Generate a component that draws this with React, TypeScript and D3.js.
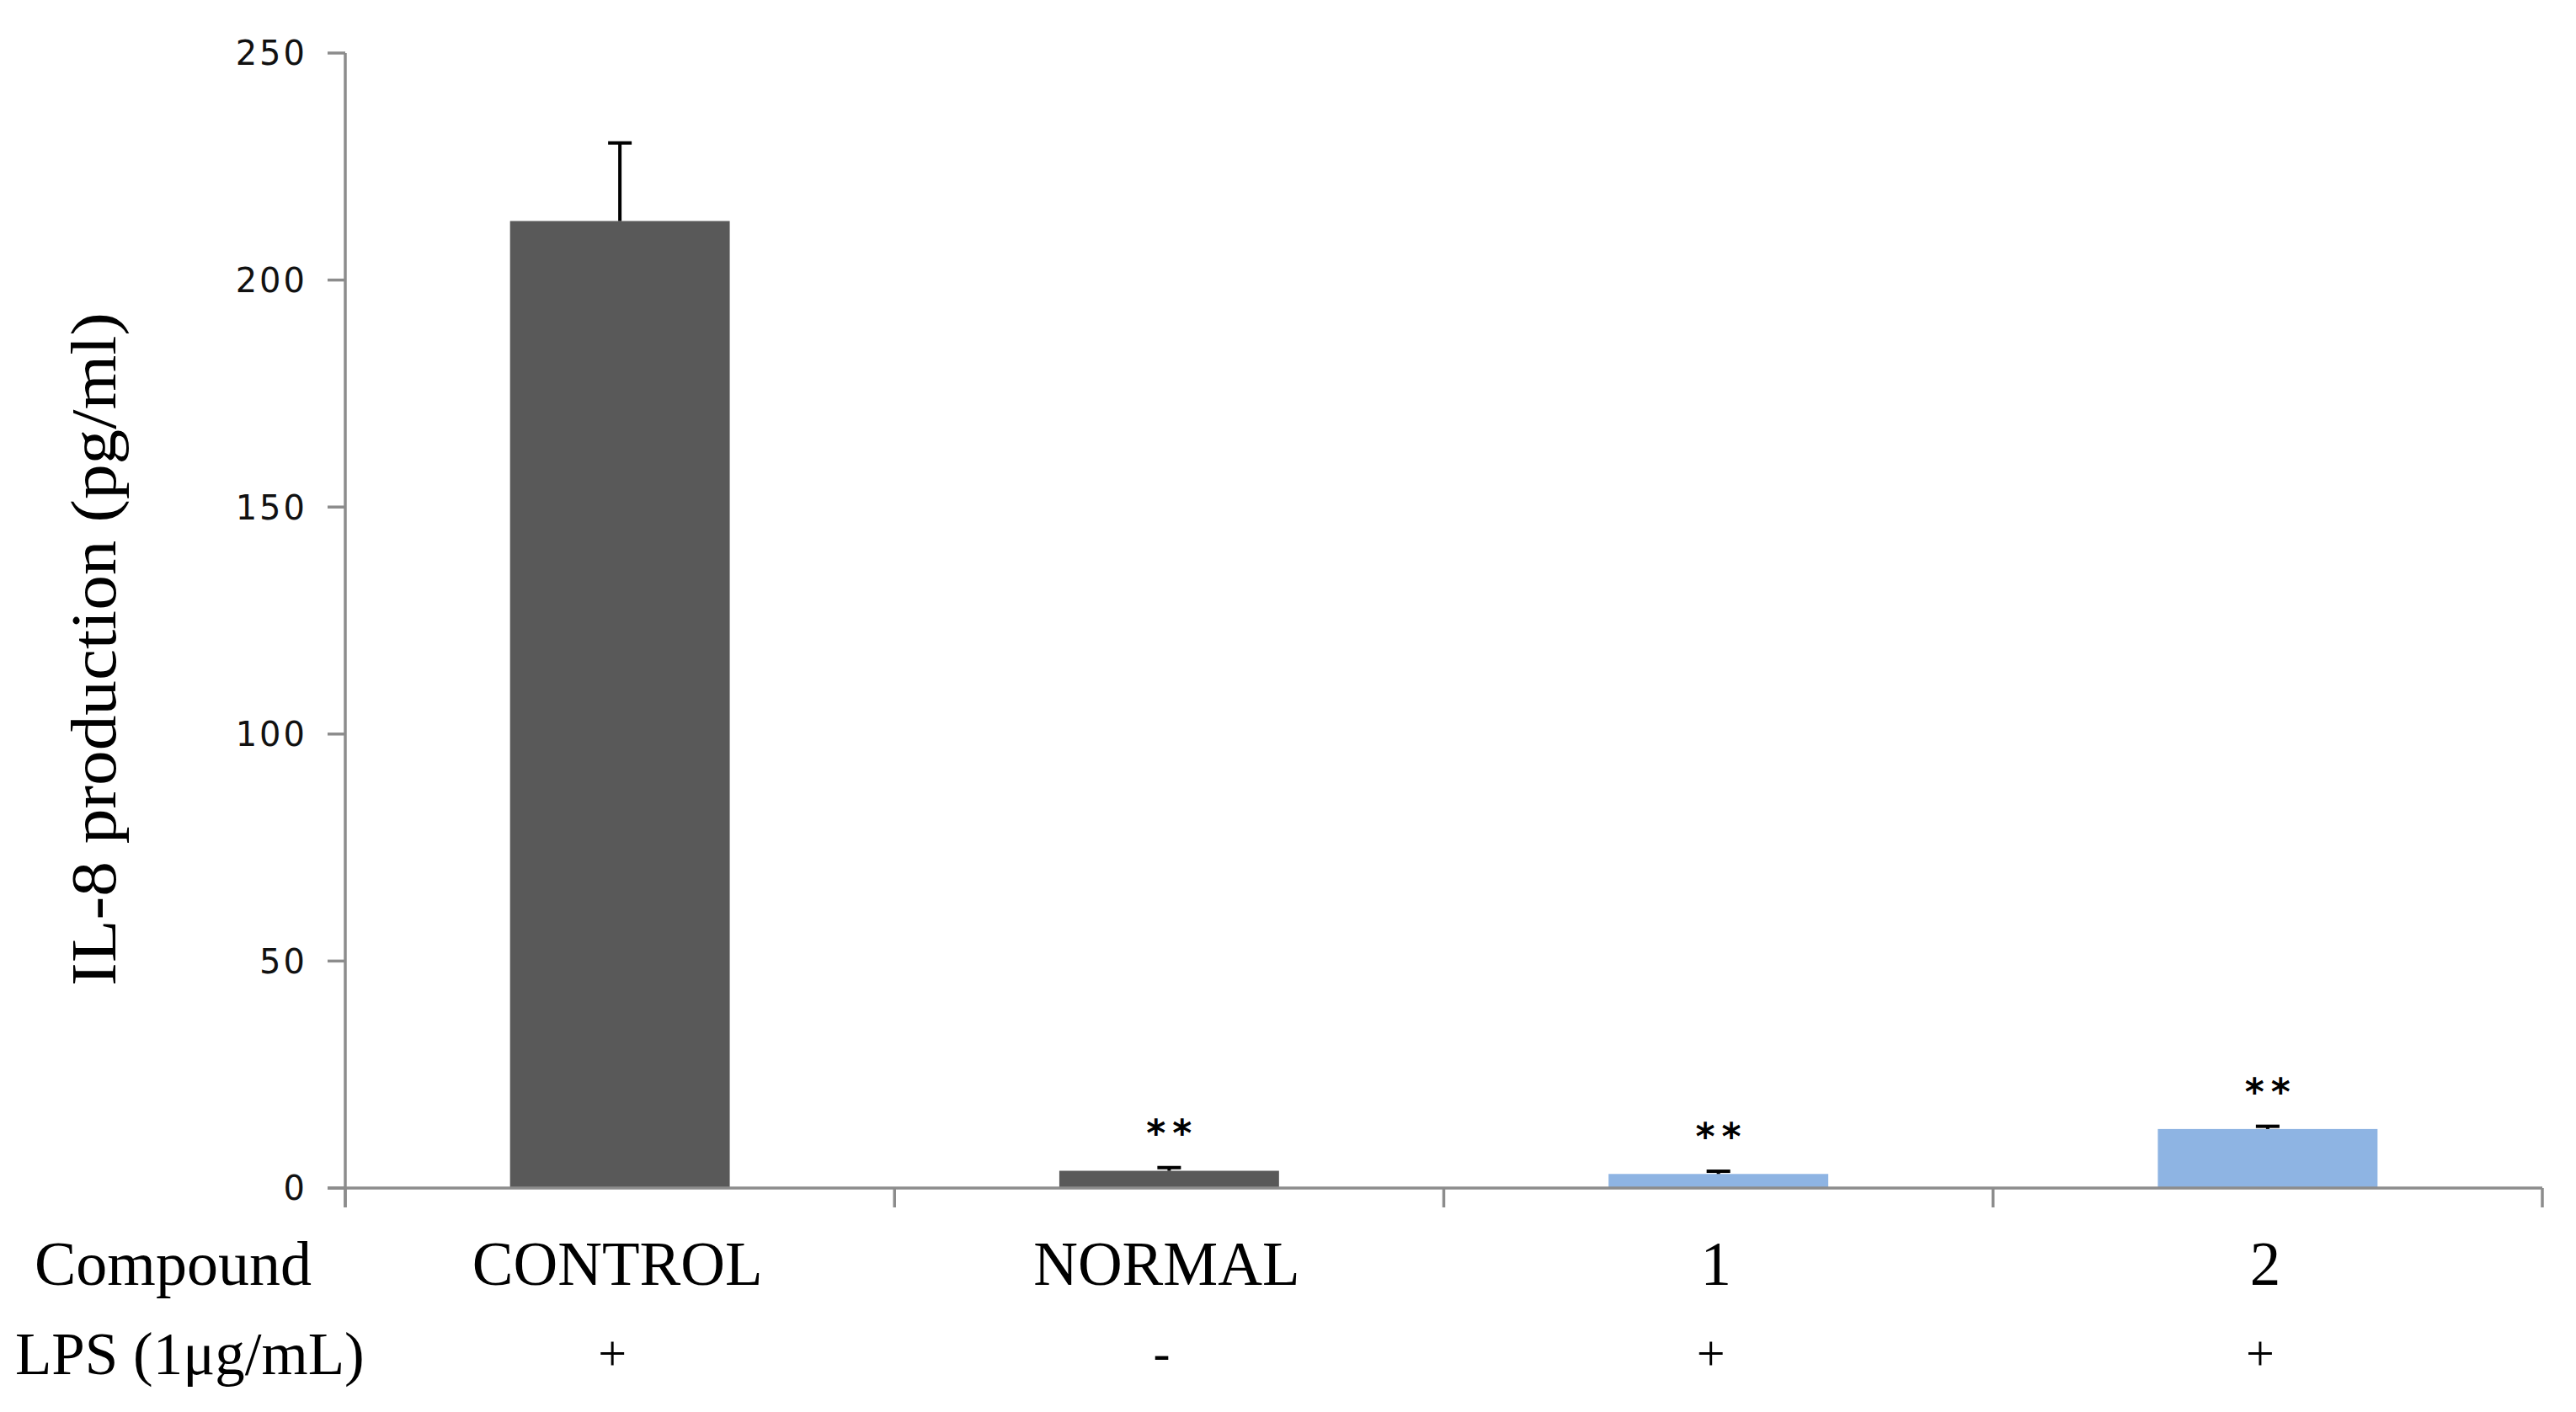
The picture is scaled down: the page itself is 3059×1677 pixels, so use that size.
import React from "react";
import * as d3 from "d3";

const categories = ["CONTROL", "NORMAL", "1", "2"];
const values = [213, 3.8, 3.1, 13.0];
const errors = [17.2, 0.7, 0.6, 0.6];
const barColors = ["#595959", "#595959", "#8EB4E3", "#8EB4E3"];
const significance = ["", "**", "**", "**"];
const lpsLabels = ["+", "-", "+", "+"];
const yTicks = [0, 50, 100, 150, 200, 250];

const W = 3059;
const H = 1677;
const M = { left: 410, right: 3019, top: 63, bottom: 1411 };

export default function App() {
  const x = d3
    .scaleBand<string>()
    .domain(categories)
    .range([M.left, M.right])
    .paddingInner(0.6)
    .paddingOuter(0.3);
  const band = (M.right - M.left) / categories.length;
  const y = d3.scaleLinear().domain([0, 250]).range([M.bottom, M.top]);
  const axisColor = "#8c8c8c";
  const serif = "'Liberation Serif', 'Times New Roman', serif";
  const sans = "'DejaVu Sans', Verdana, sans-serif";
  const center = (c: string) => (x(c) as number) + x.bandwidth() / 2;

  return (
    <svg
      width={W}
      height={H}
      style={{ position: "absolute", left: 0, top: 0, background: "#fff" }}
    >
      {categories.map((c, i) => (
        <rect
          key={"b" + c}
          x={x(c)}
          y={y(values[i])}
          width={x.bandwidth()}
          height={y(0) - y(values[i])}
          fill={barColors[i]}
        />
      ))}
      {categories.map((c, i) => {
        const cx = center(c);
        const yt = y(values[i] + errors[i]);
        return (
          <g key={"e" + c} stroke="#000" strokeWidth={4}>
            <line x1={cx} x2={cx} y1={y(values[i])} y2={yt} />
            <line x1={cx - 14} x2={cx + 14} y1={yt} y2={yt} />
          </g>
        );
      })}
      {categories.map((c, i) =>
        significance[i] ? (
          <text
            key={"s" + c}
            x={center(c) + 4}
            y={y(values[i] + errors[i]) - 26}
            fontFamily={sans}
            fontSize={44}
            fontWeight="bold"
            letterSpacing={8}
            textAnchor="middle"
            fill="#000"
          >
            {significance[i]}
          </text>
        ) : null
      )}
      <line x1={M.left} x2={M.left} y1={M.top} y2={M.bottom + 23} stroke={axisColor} strokeWidth={3.5} />
      {yTicks.map((t) => (
        <g key={"yt" + t}>
          <line x1={M.left - 21} x2={M.left} y1={y(t)} y2={y(t)} stroke={axisColor} strokeWidth={3.5} />
          <text
            x={M.left - 45}
            y={y(t)}
            dy="0.36em"
            textAnchor="end"
            fontFamily={sans}
            fontSize={40}
            letterSpacing={3}
            fill="#111"
          >
            {t}
          </text>
        </g>
      ))}
      <line x1={M.left - 21} x2={M.right} y1={M.bottom} y2={M.bottom} stroke={axisColor} strokeWidth={3.5} />
      {d3.range(categories.length + 1).map((k) => (
        <line
          key={"xt" + k}
          x1={M.left + k * band}
          x2={M.left + k * band}
          y1={M.bottom}
          y2={M.bottom + 23}
          stroke={axisColor}
          strokeWidth={3.5}
        />
      ))}
      <text
        transform={`translate(111, 771) rotate(-90)`}
        textAnchor="middle"
        dominantBaseline="central"
        fontFamily={serif}
        fontSize={76}
        textLength={800}
        lengthAdjust="spacingAndGlyphs"
        fill="#000"
      >
        IL-8 production (pg/ml)
      </text>
      <text x={41} y={1526} fontFamily={serif} fontSize={74} fill="#000">
        Compound
      </text>
      <text x={18} y={1632} fontFamily={serif} fontSize={71} fill="#000">
        LPS (1μg/mL)
      </text>
      {categories.map((c) => (
        <text
          key={"cl" + c}
          x={center(c) - 3}
          y={1526}
          textAnchor="middle"
          fontFamily={serif}
          fontSize={73}
          fill="#000"
        >
          {c}
        </text>
      ))}
      {categories.map((c, i) => (
        <text
          key={"lps" + c}
          x={center(c) - 9}
          y={1627}
          textAnchor="middle"
          fontFamily={serif}
          fontSize={60}
          fill="#000"
        >
          {lpsLabels[i]}
        </text>
      ))}
    </svg>
  );
}
